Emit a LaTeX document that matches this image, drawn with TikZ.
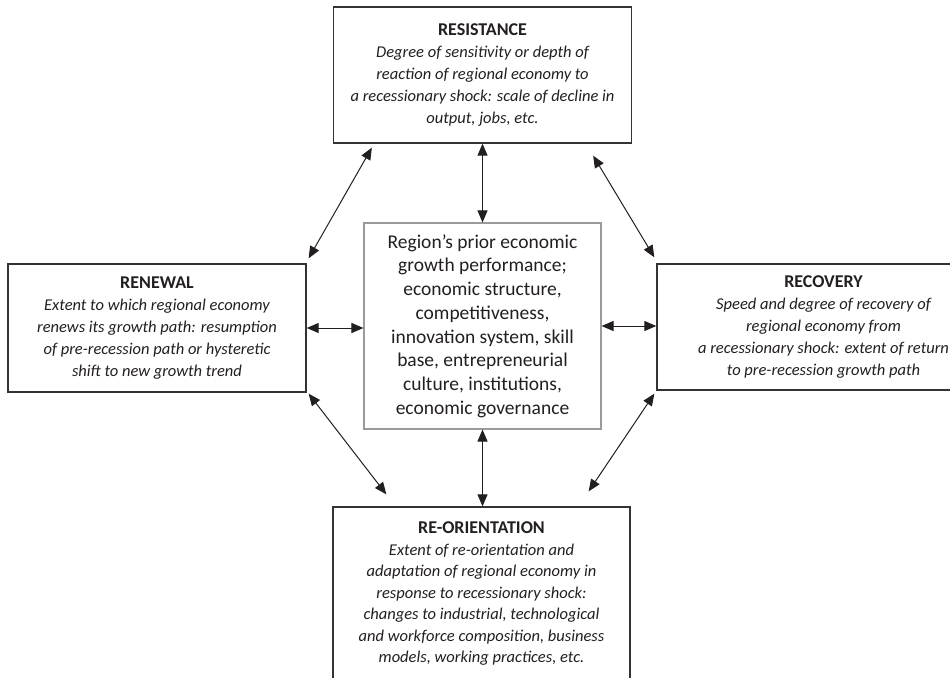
\documentclass[tikz,border=0pt]{standalone}
\usepackage{fontspec}
\setmainfont{Carlito}
\usetikzlibrary{arrows.meta,calc}
\definecolor{boxline}{HTML}{333333}
\definecolor{innerline}{HTML}{9A9A9A}
\definecolor{ink}{HTML}{231F20}
\newcommand{\boxtitle}[1]{\textup{\bfseries\fontsize{18bp}{22bp}\selectfont #1}}
\begin{document}
\begin{tikzpicture}[x=1bp,y=-1bp,
  outer/.style={draw=boxline,line width=1.3bp,text=ink,align=center,inner sep=0pt,
    font=\fontsize{16.5bp}{22bp}\selectfont\itshape},
  core/.style={draw=innerline,line width=1.1bp,text=ink,align=center,inner sep=0pt,
    font=\fontsize{19.5bp}{23.7bp}\selectfont},
  link/.style={draw=ink,line width=1bp,{Triangle[length=12bp,width=10bp]}-{Triangle[length=12bp,width=10bp]}}]
\useasboundingbox (0,0) rectangle (950,678);
\clip (0,0) rectangle (950,678);
\fill[white] (0,0) rectangle (950,678);

\node[outer,minimum width=298bp,minimum height=136bp] (top) at (482.5,75)
 {\boxtitle{RESISTANCE}\\Degree of sensitivity or depth of\\reaction of regional economy to\\a recessionary shock: scale of decline in\\output, jobs, etc.};
\node[outer,minimum width=298bp,minimum height=128bp] (left) at (157,328)
 {\boxtitle{RENEWAL}\\Extent to which regional economy\\renews its growth path: resumption\\of pre-recession path or hysteretic\\shift to new growth trend};
\node[outer,minimum width=333bp,minimum height=126bp] (right) at (823.5,327)
 {\boxtitle{RECOVERY}\\Speed and degree of recovery of\\regional economy from\\a recessionary shock: extent of return\\to pre-recession growth path};
\node[outer,minimum width=297bp,minimum height=174bp,
  font=\fontsize{16.5bp}{21.5bp}\selectfont\itshape] (bottom) at (481.5,594)
 {\boxtitle{RE-ORIENTATION}\\Extent of re-orientation and\\adaptation of regional economy in\\response to recessionary shock:\\changes to industrial, technological\\and workforce composition, business\\models, working practices, etc.};
\node[core,minimum width=237bp,minimum height=206bp] (center) at (482.5,326)
 {Region’s prior economic\\growth performance;\\economic structure,\\competitiveness,\\innovation system, skill\\base, entrepreneurial\\culture, institutions,\\economic governance};

\draw[link] (top.south) -- (center.north);
\draw[link] (center.south) -- (bottom.north -| center.south);
\draw[link] (left.east) -- (left.east -| center.west);
\draw[link] (center.east) -- (center.east -| right.west);
\draw[link] ($(top.south west)+(39,4)$) -- ($(left.north east)+(2,-5)$);
\draw[link] ($(top.south east)+(-39,12)$) -- ($(right.north west)+(-2,-6)$);
\draw[link] ($(left.south east)+(2,1)$) -- ($(bottom.north west)+(54,-12)$);
\draw[link] ($(right.south west)+(-2,3)$) -- ($(bottom.north east)+(-42,-15)$);
\end{tikzpicture}
\end{document}
